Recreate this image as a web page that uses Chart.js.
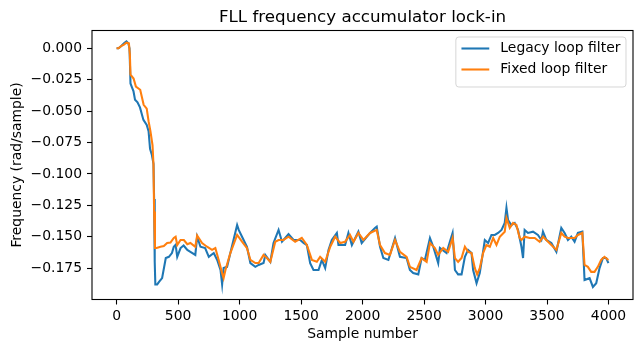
<!DOCTYPE html>
<html>
<head>
<meta charset="utf-8">
<script src="https://cdn.jsdelivr.net/npm/chart.js@4"></script>
<style>
  html, body { margin: 0; padding: 0; background: #fff; }
  canvas { display: block; }
</style>
</head>
<body>
<canvas id="chart" width="643" height="353"></canvas>
<script>
// Valeurs
const legacyX = [0, 16, 40, 60, 80, 95, 105, 113, 125, 137, 150, 170, 190, 218, 245, 260, 272, 287, 300, 305, 310, 315, 330, 345, 370, 400, 425, 450, 465, 480, 493, 520, 545, 575, 600, 640, 655, 682, 720, 750, 790, 818, 845, 858, 870, 898, 925, 980, 993, 1020, 1060, 1088, 1128, 1155, 1195, 1209, 1250, 1276, 1317, 1345, 1398, 1439, 1493, 1520, 1547, 1574, 1601, 1642, 1669, 1696, 1723, 1750, 1791, 1804, 1858, 1885, 1913, 1966, 1993, 2061, 2101, 2115, 2142, 2169, 2210, 2264, 2304, 2358, 2385, 2412, 2453, 2480, 2507, 2548, 2575, 2615, 2629, 2683, 2710, 2732, 2751, 2777, 2805, 2832, 2858, 2886, 2899, 2927, 2953, 2980, 2994, 3021, 3048, 3075, 3102, 3130, 3156, 3170, 3183, 3210, 3237, 3264, 3292, 3305, 3318, 3345, 3386, 3426, 3454, 3467, 3494, 3535, 3576, 3616, 3643, 3670, 3697, 3724, 3751, 3787, 3805, 3846, 3873, 3900, 3927, 3954, 3981, 3999];
const legacyY = [0.0, 0.0, 0.002, 0.004, 0.0055, 0.004, 0.0, -0.028, -0.031, -0.034, -0.041, -0.043, -0.047, -0.057, -0.061, -0.066, -0.080, -0.085, -0.092, -0.120, -0.170, -0.188, -0.188, -0.186, -0.183, -0.167, -0.166, -0.163, -0.158, -0.1565, -0.166, -0.159, -0.157, -0.1605, -0.162, -0.1645, -0.150, -0.158, -0.159, -0.166, -0.163, -0.1685, -0.1765, -0.188, -0.175, -0.174, -0.163, -0.1407, -0.1446, -0.150, -0.158, -0.171, -0.174, -0.1725, -0.171, -0.1645, -0.170, -0.155, -0.1446, -0.154, -0.148, -0.1526, -0.1526, -0.155, -0.1566, -0.171, -0.1765, -0.1765, -0.1685, -0.175, -0.1605, -0.1526, -0.147, -0.1566, -0.1566, -0.147, -0.1566, -0.146, -0.155, -0.147, -0.143, -0.142, -0.158, -0.167, -0.1685, -0.151, -0.166, -0.167, -0.1765, -0.179, -0.180, -0.167, -0.1685, -0.151, -0.158, -0.171, -0.159, -0.163, -0.154, -0.147, -0.1765, -0.180, -0.180, -0.166, -0.1605, -0.163, -0.1765, -0.187, -0.179, -0.162, -0.1526, -0.155, -0.1486, -0.1486, -0.147, -0.1446, -0.139, -0.127, -0.1367, -0.1407, -0.139, -0.1446, -0.158, -0.167, -0.1446, -0.147, -0.146, -0.1486, -0.1526, -0.146, -0.1526, -0.155, -0.162, -0.143, -0.147, -0.1526, -0.150, -0.154, -0.147, -0.146, -0.1845, -0.183, -0.190, -0.187, -0.175, -0.167, -0.167, -0.171];

const fixedX = [0, 16, 40, 60, 80, 100, 108, 113, 138, 157, 192, 220, 245, 260, 275, 292, 300, 305, 312, 325, 357, 384, 411, 438, 465, 480, 493, 520, 547, 575, 600, 640, 655, 695, 735, 776, 803, 830, 858, 870, 885, 925, 980, 1020, 1060, 1088, 1128, 1155, 1195, 1222, 1250, 1290, 1317, 1357, 1398, 1452, 1506, 1547, 1588, 1628, 1655, 1696, 1737, 1777, 1818, 1858, 1898, 1926, 1966, 2007, 2061, 2115, 2142, 2182, 2223, 2264, 2304, 2358, 2385, 2439, 2480, 2521, 2548, 2588, 2615, 2656, 2696, 2732, 2751, 2777, 2805, 2832, 2858, 2886, 2913, 2932, 2953, 2980, 3007, 3035, 3062, 3089, 3116, 3156, 3170, 3197, 3224, 3251, 3278, 3292, 3318, 3359, 3400, 3440, 3467, 3494, 3535, 3576, 3616, 3643, 3670, 3697, 3724, 3751, 3787, 3805, 3832, 3859, 3886, 3913, 3940, 3967, 3999];
const fixedY = [0.0, 0.0, 0.002, 0.003, 0.0045, 0.004, -0.005, -0.021, -0.024, -0.0305, -0.033, -0.045, -0.048, -0.058, -0.066, -0.077, -0.093, -0.130, -0.159, -0.159, -0.158, -0.1574, -0.155, -0.1547, -0.151, -0.150, -0.1566, -0.1526, -0.1526, -0.156, -0.155, -0.158, -0.149, -0.155, -0.158, -0.1605, -0.159, -0.1685, -0.179, -0.183, -0.1765, -0.163, -0.1486, -0.154, -0.159, -0.1685, -0.171, -0.171, -0.1645, -0.167, -0.170, -0.154, -0.1526, -0.1526, -0.150, -0.154, -0.151, -0.1566, -0.1685, -0.170, -0.166, -0.170, -0.158, -0.150, -0.155, -0.154, -0.1486, -0.154, -0.147, -0.1526, -0.147, -0.1446, -0.1566, -0.163, -0.1645, -0.1526, -0.162, -0.166, -0.174, -0.1765, -0.167, -0.170, -0.155, -0.159, -0.1645, -0.159, -0.162, -0.151, -0.167, -0.170, -0.167, -0.158, -0.162, -0.163, -0.175, -0.180, -0.175, -0.163, -0.1566, -0.158, -0.151, -0.1566, -0.150, -0.146, -0.135, -0.143, -0.139, -0.1407, -0.151, -0.1526, -0.150, -0.151, -0.151, -0.154, -0.150, -0.1526, -0.1566, -0.1605, -0.147, -0.150, -0.151, -0.151, -0.151, -0.1486, -0.147, -0.1725, -0.174, -0.178, -0.178, -0.174, -0.1685, -0.166, -0.1685];

const xTicks = [0, 500, 1000, 1500, 2000, 2500, 3000, 3500, 4000];
const yTicks = [0, -0.025, -0.05, -0.075, -0.1, -0.125, -0.15, -0.175];
const seriesNames = ['Legacy loop filter', 'Fixed loop filter'];
const seriesColors = ['#1f77b4', '#ff7f0e'];

const FONT = 'DejaVu Sans';

function toPoints(xs, ys) {
  return xs.map((x, i) => ({ x: x, y: ys[i] }));
}

function fmtY(v) {
  const s = Math.abs(v).toFixed(3);
  return (v < -1e-9 ? '\u2212' : '') + s;
}

// Cadre, titre et légende façon matplotlib
const decorPlugin = {
  id: 'decor',
  afterDraw(chart) {
    const ctx = chart.ctx;
    const a = chart.chartArea;
    ctx.save();
    ctx.strokeStyle = '#000';
    ctx.lineWidth = 1.1;
    ctx.strokeRect(a.left, a.top, a.right - a.left, a.bottom - a.top);

    // Titre
    ctx.fillStyle = '#000';
    ctx.font = '16.7px "' + FONT + '"';
    ctx.textAlign = 'center';
    ctx.textBaseline = 'alphabetic';
    ctx.fillText('FLL frequency accumulator lock-in', (a.left + a.right) / 2, a.top - 8.3);

    // Légende
    ctx.font = '13.9px "' + FONT + '"';
    const tw = Math.max(...seriesNames.map(n => ctx.measureText(n).width));
    const right = a.right - 7;
    const left = right - (5.6 + 27.8 + 11.1 + tw + 5.6);
    const top = a.top + 6.5;
    const bottom = top + 50;
    const r = 3;
    ctx.beginPath();
    ctx.moveTo(left + r, top);
    ctx.lineTo(right - r, top);
    ctx.arcTo(right, top, right, top + r, r);
    ctx.lineTo(right, bottom - r);
    ctx.arcTo(right, bottom, right - r, bottom, r);
    ctx.lineTo(left + r, bottom);
    ctx.arcTo(left, bottom, left, bottom - r, r);
    ctx.lineTo(left, top + r);
    ctx.arcTo(left, top, left + r, top, r);
    ctx.closePath();
    ctx.fillStyle = 'rgba(255,255,255,0.8)';
    ctx.fill();
    ctx.strokeStyle = 'rgba(204,204,204,0.8)';
    ctx.lineWidth = 1;
    ctx.stroke();

    ctx.textAlign = 'left';
    ctx.textBaseline = 'middle';
    seriesNames.forEach((name, i) => {
      const cy = top + 11.5 + i * 21;
      ctx.strokeStyle = seriesColors[i];
      ctx.lineWidth = 2.08;
      ctx.beginPath();
      ctx.moveTo(left + 5.6, cy);
      ctx.lineTo(left + 5.6 + 27.8, cy);
      ctx.stroke();
      ctx.fillStyle = '#000';
      ctx.fillText(name, left + 5.6 + 27.8 + 11.1, cy);
    });
    ctx.restore();
  }
};

new Chart(document.getElementById('chart'), {
  type: 'line',
  data: {
    datasets: [
      {
        label: seriesNames[0],
        data: toPoints(legacyX, legacyY),
        borderColor: seriesColors[0],
        borderWidth: 2.08,
        pointRadius: 0,
        tension: 0,
        order: 1
      },
      {
        label: seriesNames[1],
        data: toPoints(fixedX, fixedY),
        borderColor: seriesColors[1],
        borderWidth: 2.08,
        pointRadius: 0,
        tension: 0,
        order: 0
      }
    ]
  },
  options: {
    responsive: false,
    animation: false,
    devicePixelRatio: 1,
    layout: { padding: { top: 30.5, right: 10, bottom: 0, left: 0 } },
    plugins: {
      legend: { display: false },
      tooltip: { enabled: false },
      title: { display: false }
    },
    scales: {
      x: {
        type: 'linear',
        min: -200,
        max: 4199,
        afterFit: s => { s.height = 53.5; },
        afterBuildTicks: s => { s.ticks = xTicks.map(v => ({ value: v })); },
        grid: { drawOnChartArea: false, drawTicks: true, tickLength: 5, tickWidth: 1.1, tickColor: '#000' },
        border: { display: false },
        ticks: {
          color: '#000',
          padding: 4,
          maxRotation: 0,
          autoSkip: false,
          font: { family: FONT, size: 13.9 },
          callback: v => String(v)
        },
        title: {
          display: true,
          text: 'Sample number',
          color: '#000',
          font: { family: FONT, size: 13.9 },
          padding: { top: 0, bottom: 10.5 }
        }
      },
      y: {
        type: 'linear',
        min: -0.2,
        max: 0.0142,
        afterFit: s => { s.width = 92; },
        afterBuildTicks: s => { s.ticks = yTicks.map(v => ({ value: v })); },
        grid: { drawOnChartArea: false, drawTicks: true, tickLength: 5, tickWidth: 1.1, tickColor: '#000' },
        border: { display: false },
        ticks: {
          color: '#000',
          padding: 5,
          autoSkip: false,
          font: { family: FONT, size: 13.9 },
          callback: v => fmtY(v)
        },
        title: {
          display: true,
          text: 'Frequency (rad/sample)',
          color: '#000',
          font: { family: FONT, size: 13.9 },
          padding: { top: 9, bottom: 0 }
        }
      }
    }
  },
  plugins: [decorPlugin]
});
</script>
</body>
</html>
